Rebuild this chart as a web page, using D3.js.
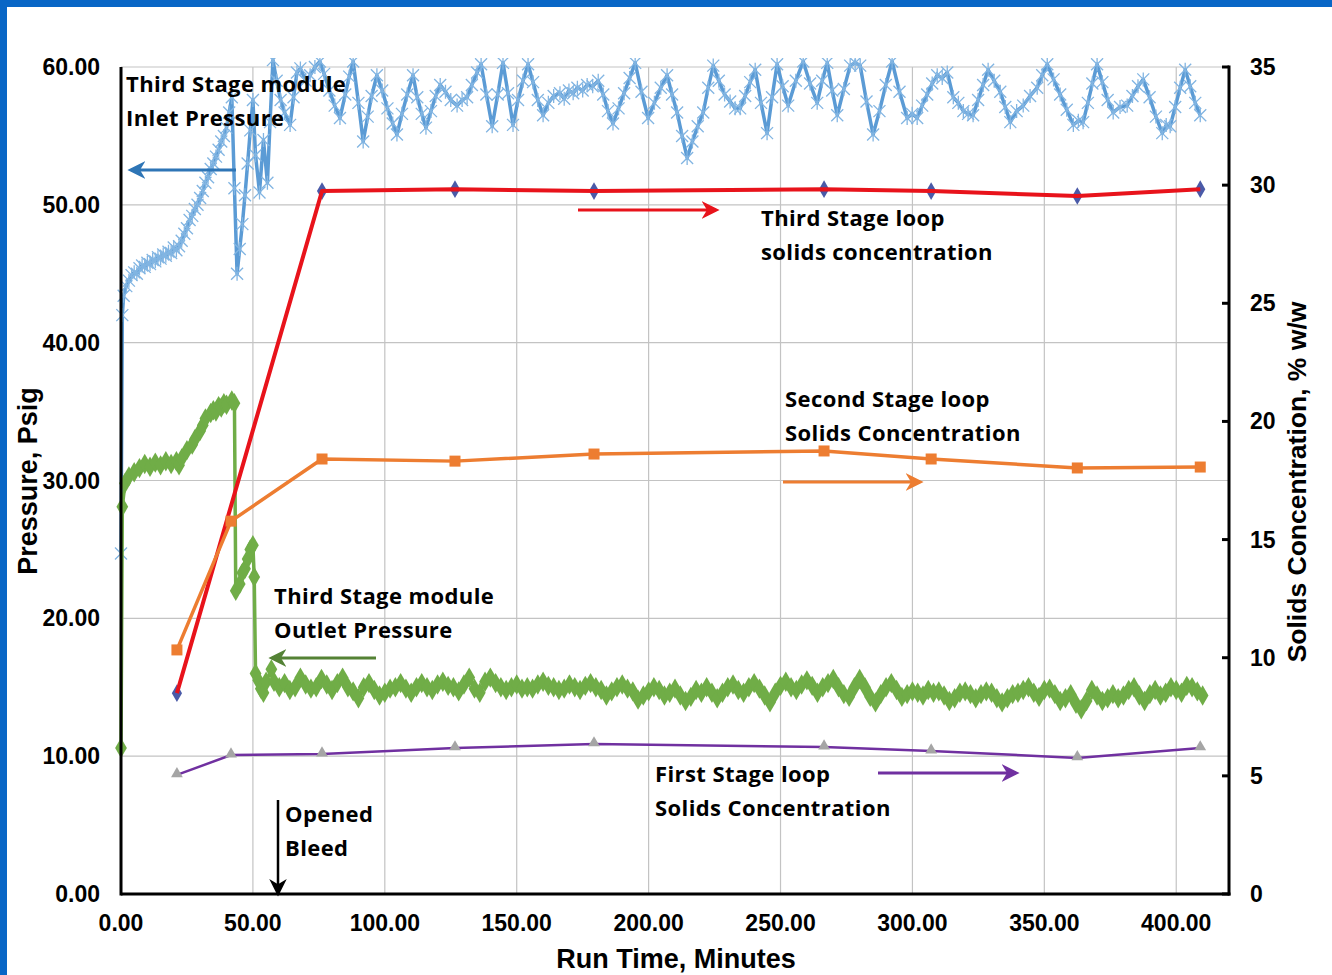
<!DOCTYPE html>
<html>
<head>
<meta charset="utf-8">
<script src="https://cdn.jsdelivr.net/npm/d3@7"></script>
<style>
  body { margin: 0; background: #fff; }
  svg { display: block; }
</style>
</head>
<body>
<svg id="chart" width="1332" height="975"></svg>
<script>
// run time (min), third stage module inlet pressure (psig)
const inletPressure = [
  [0,24.7],[0.5,42.0],[1,43.4],[2,44.1],[3,44.5],[4,44.9],[5,45.1],[6,45.0],[7,45.4],[8,45.6],[9,45.5],[10,45.8],
  [11,45.7],[12,46.0],[13,45.9],[14,46.2],[15,46.1],[16,46.4],[17,46.3],[18,46.6],[19,46.5],[20,46.9],[21,46.7],
  [22,47.0],[23,47.4],[24,47.9],[25,48.3],[26,48.9],[27,49.2],[28,49.7],[29,50.0],[30,50.5],[31,51.0],[32,51.6],
  [33,52.0],[34,52.6],[35,53.0],[36,53.5],[37,54.0],[38,54.6],[39,55.0],[40,55.6],[41,56.7],[42,57.8],[43,51.2],
  [44,45.0],[45,46.8],[46,48.6],[47,50.7],[48,53.0],[49,55.4],[50,57.6],[51,53.6],[52.5,50.9],[54,54.7],[55.5,51.6],
  [56.5,56.0],[57.6,60.5],[59,59.0],[60.5,57.6],[62,56.7],[64.1,55.8],[65.4,57.8],[66.7,59.6],[68,59.9],[70,59.0],
  [71.7,59.4],[73.5,60.0],[75.4,60.4],[77,59.5],[79,58.3],[81,57.2],[83,56.3],[85,58.0],[86.5,59.3],[88,60.4],
  [90,57.4],[91.8,54.6],[93.5,56.4],[95,57.9],[97,59.4],[99,58.3],[101,57.0],[103,55.9],[104.6,55.1],[106.5,56.6],
  [108.5,58.0],[110.7,59.4],[112.3,57.8],[114,56.6],[115.6,55.6],[117.5,56.8],[119.3,57.9],[121,58.7],[123,58.2],
  [125,57.6],[127.4,57.2],[129.3,57.6],[131.2,57.8],[133,58.7],[135,59.6],[136.5,60.2],[138.5,58.0],[140.7,55.7],
  [142.8,58.0],[144.8,60.3],[146.7,58.1],[148.6,55.8],[150.5,57.6],[152.4,59.0],[154.3,60.2],[156.2,58.9],[158,57.6],
  [160,56.5],[162,57.4],[164,57.9],[166.4,58.1],[168,57.7],[169.8,58.3],[171.4,58.1],[173,58.5],[175,58.3],[176.7,58.7],
  [178.8,58.6],[180.9,59.0],[182.8,58.0],[184.6,56.8],[186.5,55.9],[188.6,57.0],[190.7,58.1],[192.8,59.2],[194.9,60.3],
  [197.3,58.2],[199.8,56.3],[202.2,57.4],[204.6,58.5],[207,59.4],[208.9,58.0],[210.8,56.7],[212.7,55.0],[214.6,53.4],
  [216.6,54.6],[218.6,55.7],[220.7,56.7],[222.6,58.5],[224.5,60.1],[226.6,59.0],[228.8,58.0],[230.9,57.5],[232.8,57.0],
  [234.7,57.0],[236.6,57.9],[238.5,58.9],[240.4,59.8],[242.6,57.4],[244.9,55.2],[246.8,57.8],[248.7,60.2],[250.8,58.6],
  [252.9,57.2],[255.8,59.0],[258.6,60.4],[261.2,58.8],[263.9,57.4],[265.8,59.0],[267.7,60.3],[269.6,58.3],[271.5,56.5],
  [274,58.4],[276.4,60.1],[278.3,60.3],[280.2,60.1],[282.6,57.5],[285.1,55.1],[287.5,56.8],[289.9,58.7],[292.3,60.4],
  [295.1,58.2],[298,56.3],[299.9,56.6],[301.8,56.3],[303.7,57.2],[305.6,58.0],[307.5,58.8],[309.4,59.4],[311.3,59.2],
  [313.2,59.6],[315.5,57.8],[317.4,57.4],[319.3,56.8],[321.1,56.6],[323,56.5],[324.9,57.6],[326.8,58.7],[328.7,59.8],
  [331,59.0],[333.3,58.2],[335.2,57.1],[337.1,56.0],[339.5,56.8],[342,57.2],[344.6,57.9],[347.3,58.5],[349.2,59.4],
  [351.1,60.2],[353.5,59.1],[356,58.0],[358.5,56.9],[361,55.8],[362.9,56.1],[364.7,56.0],[366.5,57.4],[368.2,58.8],
  [370,60.2],[372,58.9],[374,57.6],[376.1,56.7],[378.7,57.1],[381.4,57.2],[383.4,57.9],[385.5,58.6],[387.5,59.1],
  [389.9,57.8],[392.3,56.4],[394.7,55.2],[396.2,55.8],[397.7,55.7],[399.6,57.1],[401.5,58.5],[403.4,59.8],[405.3,58.6],
  [407.2,57.4],[409.1,56.5]
];

// run time (min), third stage module outlet pressure (psig)
const outletPressure = [
  [0,10.6],[0.5,28.1],[1.5,29.8],[3,30.3],[5,30.6],[7,30.9],[9,31.2],[11,31.0],[13,31.3],[15,31.1],[17,31.4],
  [19,31.2],[21,31.4],[22,31.1],[23,31.6],[25,32.2],[27,32.6],[28,33.0],[30,33.6],[31,34.0],[32,34.5],[34,34.9],
  [35,35.1],[36,35.0],[37,35.4],[38,35.3],[39,35.6],[40,35.5],[42,35.8],[43,35.6],[43.5,22.0],[45,22.5],[46,23.3],
  [47,23.6],[48,24.3],[49,25.0],[50,25.3],[50.5,23.0],[51,16.0],[52,15.5],[53,14.9],[54,14.6],[55,15.4],[57,16.3],
  [58,15.4],[60,15.0],[62,15.3],[64,14.8],[66,15.0],[68,15.7],[70,15.2],[72,14.9],[74,15.0],[76,15.6],[78,15.2],
  [80,14.8],[82,15.3],[84,15.7],[86,15.0],[88,14.7],[90,14.2],[92,15.0],[94,15.3],[96,14.8],[98,14.4],[100,14.6],
  [102,14.9],[104,15.0],[106,15.3],[108,14.9],[110,14.6],[112,15.0],[114,15.3],[116,15.0],[118,14.8],[120,15.2],
  [122,15.4],[124,15.1],[126,15.0],[128,14.7],[130,15.2],[132,15.7],[134,14.9],[136,14.6],[138,15.4],[140,15.7],
  [142,15.3],[144,15.0],[146,14.8],[148,15.0],[150,15.2],[152,14.9],[154,15.0],[156,14.9],[158,15.2],[160,15.4],
  [162,15.1],[164,15.0],[166,14.8],[168,14.9],[170,15.2],[172,15.0],[174,14.8],[176,15.1],[178,15.3],[180,15.0],
  [182,14.8],[184,14.4],[186,14.7],[188,15.0],[190,15.2],[192,14.9],[194,14.7],[196,14.1],[198,14.4],[200,14.7],
  [202,15.0],[204,14.8],[206,14.4],[208,14.6],[210,14.9],[212,14.4],[214,14.0],[216,14.3],[218,14.8],[220,14.6],
  [222,15.0],[224,14.6],[226,14.2],[228,14.6],[230,15.0],[232,15.2],[234,14.8],[236,14.6],[238,15.0],[240,15.3],
  [242,14.9],[244,14.4],[246,13.9],[248,14.6],[250,15.1],[252,15.4],[254,15.0],[256,14.8],[258,15.2],[260,15.5],
  [262,15.1],[264,14.6],[266,15.0],[268,15.3],[270,15.6],[272,15.0],[274,14.5],[276,14.3],[278,15.0],[280,15.6],
  [282,15.0],[284,14.3],[286,13.9],[288,14.5],[290,15.0],[292,15.3],[294,14.8],[296,14.3],[298,14.5],[300,14.7],
  [302,14.6],[304,14.4],[306,14.8],[308,14.6],[310,14.7],[312,14.4],[314,14.0],[316,14.2],[318,14.6],[320,14.7],
  [322,14.5],[324,14.2],[326,14.5],[328,14.7],[330,14.6],[332,14.2],[334,13.9],[336,14.2],[338,14.5],[340,14.6],
  [342,14.8],[344,15.0],[346,14.6],[348,14.3],[350,14.8],[352,14.9],[354,14.5],[356,14.0],[358,14.2],[360,14.5],
  [362,13.8],[364,13.4],[366,14.0],[368,14.8],[370,14.4],[372,14.0],[374,14.2],[376,14.5],[378,14.2],[380,14.4],
  [382,14.8],[384,15.0],[386,14.4],[388,14.0],[390,14.5],[392,14.8],[394,14.4],[396,14.6],[398,15.0],[400,14.8],
  [402,14.6],[404,15.1],[406,15.0],[408,14.7],[410,14.4]
];

// loop solids samples (run time, % w/w)
const sampleTimes   = [21.2, 41.7, 76.2, 126.6, 179.3, 266.5, 307.1, 362.5, 409.1];
const thirdStage    = [8.5, null, 29.75, 29.83, 29.75, 29.83, 29.75, 29.54, 29.83];
const secondStage   = [10.33, 15.78, 18.41, 18.32, 18.62, 18.75, 18.41, 18.03, 18.07];
const firstStage    = [5.04, 5.88, 5.92, 6.18, 6.35, 6.22, 6.05, 5.76, 6.18];

const xTicks = [0, 50, 100, 150, 200, 250, 300, 350, 400];
const leftTicks = [0, 10, 20, 30, 40, 50, 60];
const rightTicks = [0, 5, 10, 15, 20, 25, 30, 35];

const svg = d3.select('#chart');

const x = d3.scaleLinear().domain([0, 420]).range([121, 1229]);
const yP = d3.scaleLinear().domain([0, 60]).range([894, 67]);
const yS = d3.scaleLinear().domain([0, 35]).range([894, 67]);

// blue frame
svg.append('rect').attr('width', 1332).attr('height', 975).attr('fill', '#0866c6');
svg.append('rect').attr('x', 7).attr('y', 7).attr('width', 1325).attr('height', 968).attr('fill', '#fff');

const defs = svg.append('defs');
defs.append('clipPath').attr('id', 'plotclip')
  .append('rect').attr('x', 100).attr('y', 58).attr('width', 1140).attr('height', 850);

const arrowColors = { blue: '#2e75b6', red: '#e8131b', orange: '#ed7d31', green: '#548235', purple: '#7030a0', black: '#000' };
Object.entries(arrowColors).forEach(([k, c]) => {
  defs.append('marker').attr('id', 'arr-' + k)
    .attr('viewBox', '0 0 10 10').attr('refX', 8).attr('refY', 5)
    .attr('markerWidth', k === 'black' ? 7 : 6).attr('markerHeight', k === 'black' ? 7 : 6)
    .attr('markerUnits', 'strokeWidth')
    .attr('orient', 'auto')
    .append('path').attr('d', 'M0,0 L10,5 L0,10 L3,5 Z').attr('fill', c);
});

// grid
svg.append('g').selectAll('line').data(leftTicks.slice(1)).enter().append('line')
  .attr('x1', x(0)).attr('x2', x(420)).attr('y1', d => yP(d)).attr('y2', d => yP(d))
  .attr('stroke', '#c3c3c3').attr('stroke-width', 1.2);
svg.append('g').selectAll('line').data(xTicks.slice(1)).enter().append('line')
  .attr('x1', d => x(d)).attr('x2', d => x(d)).attr('y1', yP(0)).attr('y2', yP(60))
  .attr('stroke', '#c3c3c3').attr('stroke-width', 1.2);

const plot = svg.append('g').attr('clip-path', 'url(#plotclip)');

const lineOn = ys => d3.line().defined(d => d[1] != null).x(d => x(d[0])).y(d => ys(d[1]));

// inlet pressure - blue with star markers
plot.append('path').datum(inletPressure)
  .attr('d', lineOn(yP)).attr('fill', 'none')
  .attr('stroke', '#5b9bd5').attr('stroke-width', 3.5).attr('stroke-linejoin', 'round');
const star = 'M-6,-6L6,6M-6,6L6,-6M0,-7L0,7';
plot.append('g').selectAll('path').data(inletPressure).enter().append('path')
  .attr('transform', d => `translate(${x(d[0])},${yP(d[1])})`)
  .attr('d', star).attr('stroke', '#82b5e2').attr('stroke-width', 1.3).attr('fill', 'none');

// outlet pressure - green with diamond markers
plot.append('path').datum(outletPressure)
  .attr('d', lineOn(yP)).attr('fill', 'none')
  .attr('stroke', '#70ad47').attr('stroke-width', 3.5).attr('stroke-linejoin', 'round');
plot.append('g').selectAll('path').data(outletPressure).enter().append('path')
  .attr('transform', d => `translate(${x(d[0])},${yP(d[1])})`)
  .attr('d', d3.symbol(d3.symbolDiamond, 120)).attr('fill', '#70ad47');

// third stage solids - red line, blue diamonds
const redPts = sampleTimes.map((t, i) => [t, thirdStage[i]]).filter(d => d[1] != null);
plot.append('g').selectAll('path').data(redPts).enter().append('path')
  .attr('transform', d => `translate(${x(d[0])},${yS(d[1])})`)
  .attr('d', d3.symbol(d3.symbolDiamond, 90)).attr('fill', '#4a5aa8');
plot.append('path').datum(redPts)
  .attr('d', lineOn(yS)).attr('fill', 'none')
  .attr('stroke', '#e8131b').attr('stroke-width', 4).attr('stroke-linejoin', 'round');

// second stage solids - orange squares
const orPts = sampleTimes.map((t, i) => [t, secondStage[i]]);
plot.append('path').datum(orPts)
  .attr('d', lineOn(yS)).attr('fill', 'none')
  .attr('stroke', '#ed7d31').attr('stroke-width', 3.5).attr('stroke-linejoin', 'round');
plot.append('g').selectAll('rect').data(orPts).enter().append('rect')
  .attr('x', d => x(d[0]) - 5.5).attr('y', d => yS(d[1]) - 5.5)
  .attr('width', 11).attr('height', 11).attr('fill', '#ed7d31');

// first stage solids - purple line, gray triangles
const puPts = sampleTimes.map((t, i) => [t, firstStage[i]]);
plot.append('path').datum(puPts)
  .attr('d', lineOn(yS)).attr('fill', 'none')
  .attr('stroke', '#7030a0').attr('stroke-width', 2.5);
plot.append('g').selectAll('path').data(puPts).enter().append('path')
  .attr('transform', d => `translate(${x(d[0])},${yS(d[1]) - 1})`)
  .attr('d', d3.symbol(d3.symbolTriangle, 60)).attr('fill', '#a5a5a5');

// axes lines
svg.append('line').attr('x1', x(0)).attr('x2', x(0)).attr('y1', yP(60)).attr('y2', yP(0) + 1.5)
  .attr('stroke', '#000').attr('stroke-width', 3);
svg.append('line').attr('x1', x(0)).attr('x2', x(420) + 1.5).attr('y1', yP(0)).attr('y2', yP(0))
  .attr('stroke', '#000').attr('stroke-width', 3);
svg.append('line').attr('x1', x(420)).attr('x2', x(420)).attr('y1', yS(35) - 1.5).attr('y2', yS(0) + 1.5)
  .attr('stroke', '#000').attr('stroke-width', 3);
svg.append('g').selectAll('line').data(rightTicks).enter().append('line')
  .attr('x1', x(420) - 7).attr('x2', x(420)).attr('y1', d => yS(d)).attr('y2', d => yS(d))
  .attr('stroke', '#000').attr('stroke-width', 3);

// tick labels
const tickFont = 'Liberation Sans, Arial, sans-serif';
svg.append('g').selectAll('text').data(leftTicks).enter().append('text')
  .attr('x', 100).attr('y', d => yP(d) + 8)
  .attr('text-anchor', 'end').attr('font-family', tickFont).attr('font-weight', 'bold').attr('font-size', 23)
  .text(d => d3.format('.2f')(d));
svg.append('g').selectAll('text').data(xTicks).enter().append('text')
  .attr('x', d => x(d)).attr('y', 931)
  .attr('text-anchor', 'middle').attr('font-family', tickFont).attr('font-weight', 'bold').attr('font-size', 23)
  .text(d => d3.format('.2f')(d));
svg.append('g').selectAll('text').data(rightTicks).enter().append('text')
  .attr('x', 1250).attr('y', d => yS(d) + 8)
  .attr('text-anchor', 'start').attr('font-family', tickFont).attr('font-weight', 'bold').attr('font-size', 23)
  .text(d => d);

// axis titles
svg.append('text').attr('x', 676).attr('y', 968).attr('text-anchor', 'middle')
  .attr('font-family', tickFont).attr('font-weight', 'bold').attr('font-size', 27)
  .text('Run Time, Minutes');
svg.append('text').attr('transform', 'translate(37,481) rotate(-90)').attr('text-anchor', 'middle')
  .attr('font-family', tickFont).attr('font-weight', 'bold').attr('font-size', 27)
  .text('Pressure, Psig');
svg.append('text').attr('transform', 'translate(1306,482) rotate(-90)').attr('text-anchor', 'middle')
  .attr('font-family', tickFont).attr('font-weight', 'bold').attr('font-size', 26.5)
  .text('Solids Concentration, % w/w');

// annotations
const noteFont = '"Open Sans", Lato, sans-serif';
const notes = [
  { x: 126, y: 92, lines: ['Third Stage module', 'Inlet Pressure'] },
  { x: 761, y: 226, lines: ['Third Stage loop', 'solids concentration'] },
  { x: 785, y: 407, lines: ['Second Stage loop', 'Solids Concentration'] },
  { x: 274, y: 604, lines: ['Third Stage module', 'Outlet Pressure'] },
  { x: 655, y: 782, lines: ['First Stage loop', 'Solids Concentration'] },
  { x: 285, y: 822, lines: ['Opened', 'Bleed'] }
];
notes.forEach(n => {
  const t = svg.append('text').attr('font-family', noteFont).attr('font-weight', 'bold')
    .attr('font-size', 22).attr('letter-spacing', 0.4).attr('fill', '#000');
  n.lines.forEach((l, i) => t.append('tspan').attr('x', n.x).attr('y', n.y + i * 34).text(l));
});

const arrows = [
  { x1: 236, y1: 170, x2: 131, y2: 170, c: 'blue' },
  { x1: 578, y1: 210, x2: 716, y2: 210, c: 'red' },
  { x1: 783, y1: 482, x2: 920, y2: 482, c: 'orange' },
  { x1: 376, y1: 658, x2: 272, y2: 658, c: 'green' },
  { x1: 878, y1: 773, x2: 1016, y2: 773, c: 'purple' },
  { x1: 278, y1: 800, x2: 278, y2: 893, c: 'black' }
];
svg.append('g').selectAll('line').data(arrows).enter().append('line')
  .attr('x1', d => d.x1).attr('y1', d => d.y1).attr('x2', d => d.x2).attr('y2', d => d.y2)
  .attr('stroke', d => arrowColors[d.c]).attr('stroke-width', d => d.c === 'black' ? 2.5 : 3)
  .attr('marker-end', d => `url(#arr-${d.c})`);
</script>
</body>
</html>
